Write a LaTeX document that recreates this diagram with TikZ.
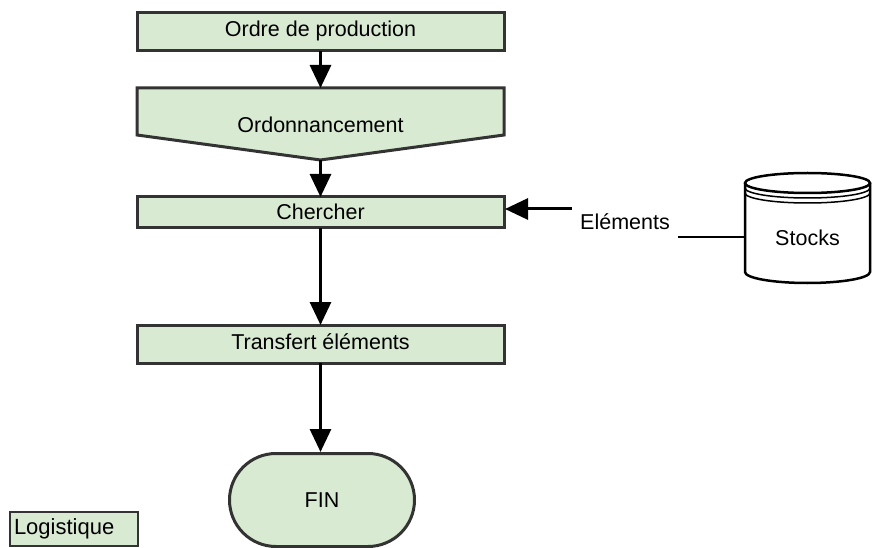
\documentclass[tikz,border=0pt]{standalone}
\usepackage{fontspec}
\setmainfont{Liberation Sans}
\usetikzlibrary{arrows.meta,shapes.misc}
\definecolor{boxfill}{RGB}{217,234,211}
\definecolor{boxline}{RGB}{51,51,51}
\begin{document}
\begin{tikzpicture}[x=1pt,y=-1pt,
  lbl/.style={font=\fontsize{21.5}{23}\selectfont, inner sep=0pt},
  procbox/.style={draw=boxline, line width=3pt, fill=boxfill},
  flow/.style={line width=3pt, -{Triangle[width=21pt,length=23pt]}},
  plain/.style={line width=2.5pt}]
\useasboundingbox (0,0) rectangle (873,548);
% Ordre de production
\draw[procbox] (137,13) rectangle (504,51);
\node[lbl] (ordre) at (320.5,31) {Ordre de production};
\coordinate (ordreS) at (320.5,51);
% Ordonnancement
\draw[procbox] (137,88) -- (504,88) -- (504,135) -- (320.5,160) -- (137,135) -- cycle;
\node[lbl] (ordo) at (320.5,125) {Ordonnancement};
\coordinate (ordoN) at (320.5,88);
\coordinate (ordoS) at (320.5,160);
% Chercher
\draw[procbox] (137,197) rectangle (504,228);
\node[lbl] (cher) at (320.5,212) {Chercher};
\coordinate (cherN) at (320.5,197);
\coordinate (cherS) at (320.5,228);
\coordinate (cherE) at (505,209);
% Transfert
\draw[procbox] (137,325) rectangle (504,363);
\node[lbl] (trans) at (320.5,342) {Transfert éléments};
\coordinate (transN) at (320.5,325);
\coordinate (transS) at (320.5,363);
% FIN
\node[draw=boxline, line width=3pt, fill=boxfill, rounded rectangle,
      minimum width=185pt, minimum height=93pt, inner sep=0pt,
      font=\fontsize{21.5}{23}\selectfont] (fin) at (322,500) {FIN};
% Stocks cylinder
\begin{scope}[line width=2.5pt]
\draw[fill=white] (745,183) -- (745,272) arc[start angle=180,end angle=0,x radius=62.5,y radius=11] -- (870,183);
\draw[fill=white] (807.5,183) ellipse[x radius=62.5,y radius=10];
\draw[line width=1.5pt] (745,188) arc[start angle=180,end angle=0,x radius=62.5,y radius=10];
\draw[line width=1.5pt] (745,193) arc[start angle=180,end angle=0,x radius=62.5,y radius=10];
\end{scope}
\node[lbl] (stocks) at (807.5,238) {Stocks};
\coordinate (stocksW) at (745,237);
% Elements label
\node[lbl] (elem) at (625,222) {Eléments};
\coordinate (elemR) at (678,237);
\coordinate (elemL) at (572,209);
% Logistique
\node[draw=boxline, line width=2pt, fill=boxfill, minimum width=128pt, minimum height=34pt,
      text width=120pt, align=left, inner sep=0pt,
      font=\fontsize{22}{24}\selectfont] (logi) at (74,529) {Logistique};
% connectors
\draw[flow] (ordreS) -- (ordoN);
\draw[flow] (ordoS) -- (cherN);
\draw[flow] (cherS) -- (transN);
\draw[flow] (transS) -- (transS |- fin.north);
\draw[flow] (elemL) -- (cherE);
\draw[plain] (stocksW) -- (elemR);
\end{tikzpicture}
\end{document}
